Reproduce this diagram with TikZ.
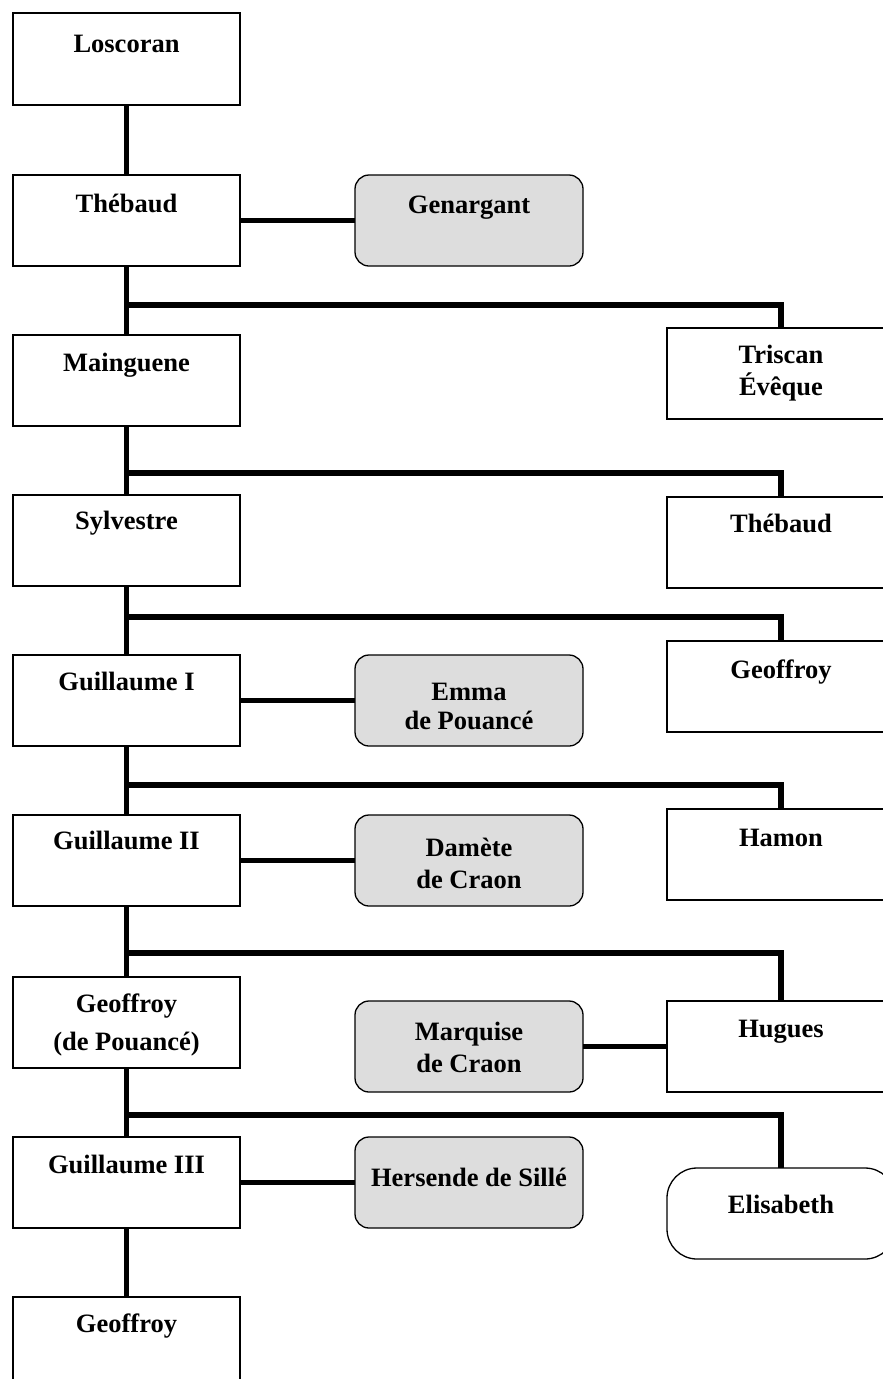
\documentclass[tikz,border=0pt]{standalone}
\usepackage{fontspec}
\setmainfont{Liberation Serif}
\definecolor{spousefill}{RGB}{221,221,221}
\begin{document}
\begin{tikzpicture}[x=1pt,y=-1pt,
  pbox/.style={draw=black, line width=1.3pt, fill=white, minimum width=227pt, minimum height=91pt, anchor=north west, inner sep=0pt, outer sep=0pt},
  rbox/.style={pbox, minimum width=228pt},
  sbox/.style={pbox, minimum width=228pt, fill=spousefill, rounded corners=14pt},
  ebox/.style={rbox, rounded corners=30pt},
  txt/.style={anchor=base, inner sep=0pt, outer sep=0pt, font=\bfseries\fontsize{26.5}{30}\selectfont},
  link/.style={line width=5.5pt}]
\clip (0,0) rectangle (883,1379);
\fill[white] (0,0) rectangle (883,1379);
% left column
\node[pbox, minimum height=92pt] (los) at (13,13) {};
\node[pbox] (theb) at (13,175) {};
\node[pbox] (main) at (13,335) {};
\node[pbox] (sylv) at (13,495) {};
\node[pbox] (guila) at (13,655) {};
\node[pbox] (guilb) at (13,815) {};
\node[pbox] (geofp) at (13,977) {};
\node[pbox] (guilc) at (13,1137) {};
\node[pbox, minimum height=100pt] (geofb) at (13,1297) {};
% right column
\node[rbox] (tri) at (667,328) {};
\node[rbox] (thebr) at (667,497) {};
\node[rbox] (geofr) at (667,641) {};
\node[rbox] (hamon) at (667,809) {};
\node[rbox] (hugues) at (667,1001) {};
\node[ebox] (elis) at (667,1168) {};
% spouses
\node[sbox] (gen) at (355,175) {};
\node[sbox] (emma) at (355,655) {};
\node[sbox] (dam) at (355,815) {};
\node[sbox] (marq) at (355,1001) {};
\node[sbox] (hers) at (355,1137) {};
% texts
\node[txt] (los-t) at (126.5,52) {Loscoran};
\node[txt] (theb-t) at (126.5,212) {Thébaud};
\node[txt] (main-t) at (126.5,371) {Mainguene};
\node[txt] (sylv-t) at (126.5,529) {Sylvestre};
\node[txt] (guila-t) at (126.5,690) {Guillaume I};
\node[txt] (guilb-t) at (126.5,849) {Guillaume II};
\node[txt] (geofp-t1) at (126.5,1012) {Geoffroy};
\node[txt] (geofp-t2) at (126.5,1050) {(de Pouancé)};
\node[txt] (guilc-t) at (126.5,1173) {Guillaume III};
\node[txt] (geofb-t) at (126.5,1332) {Geoffroy};
\node[txt] (tri-t1) at (781,363) {Triscan};
\node[txt] (tri-t2) at (781,395) {Évêque};
\node[txt] (thebr-t) at (781,532) {Thébaud};
\node[txt] (geofr-t) at (781,678) {Geoffroy};
\node[txt] (hamon-t) at (781,846) {Hamon};
\node[txt] (hugues-t) at (781,1037) {Hugues};
\node[txt] (elis-t) at (781,1213) {Elisabeth};
\node[txt] (gen-t) at (469,213) {Genargant};
\node[txt] (emma-t1) at (469,700) {Emma};
\node[txt] (emma-t2) at (469,729) {de Pouancé};
\node[txt] (dam-t1) at (469,856) {Damète};
\node[txt] (dam-t2) at (469,888) {de Craon};
\node[txt] (marq-t1) at (469,1040) {Marquise};
\node[txt] (marq-t2) at (469,1072) {de Craon};
\node[txt] (hers-t) at (469,1186) {Hersende de Sillé};
% spine
\draw[link] (los.south) -- (theb.north);
\draw[link] (theb.south) -- (main.north);
\draw[link] (main.south) -- (sylv.north);
\draw[link] (sylv.south) -- (guila.north);
\draw[link] (guila.south) -- (guilb.north);
\draw[link] (guilb.south) -- (geofp.north);
\draw[link] (geofp.south) -- (guilc.north);
\draw[link] (guilc.south) -- (geofb.north);
% branches
\coordinate (ba) at (126.5,305);
\coordinate (bb) at (126.5,473);
\coordinate (bc) at (126.5,617);
\coordinate (bd) at (126.5,785);
\coordinate (be) at (126.5,953);
\coordinate (bf) at (126.5,1115);
\draw[link] (ba) -| (tri.north);
\draw[link] (bb) -| (thebr.north);
\draw[link] (bc) -| (geofr.north);
\draw[link] (bd) -| (hamon.north);
\draw[link] (be) -| (hugues.north);
\draw[link] (bf) -| (elis.north);
% spouse links
\draw[link] (theb.east) -- (gen.west);
\draw[link] (guila.east) -- (emma.west);
\draw[link] (guilb.east) -- (dam.west);
\draw[link] (marq.east) -- (hugues.west);
\draw[link] (guilc.east) -- (hers.west);
\end{tikzpicture}
\end{document}
